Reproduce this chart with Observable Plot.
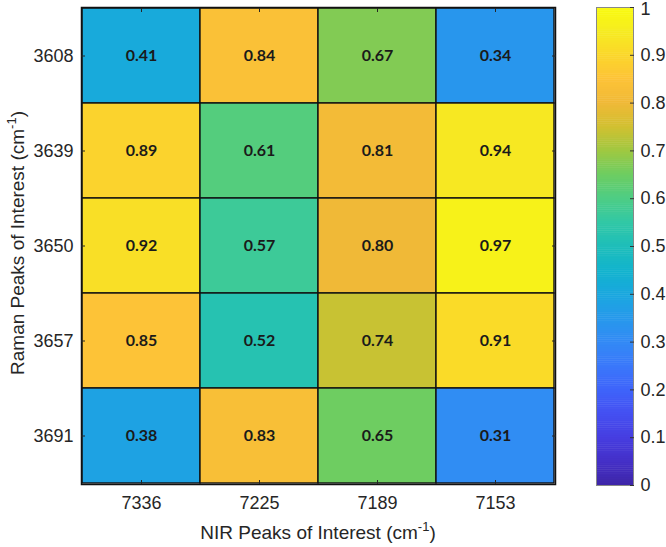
<!DOCTYPE html>
<html>
<head>
<meta charset="utf-8">
<script src="https://cdn.jsdelivr.net/npm/d3@7"></script>
<script src="https://cdn.jsdelivr.net/npm/@observablehq/plot@0.6"></script>
<style>
  html, body { margin: 0; padding: 0; background: #fff; }
  #wrap { position: relative; width: 666px; height: 547px; }
  #wrap svg { position: absolute; left: 0; top: 0; }
</style>
</head>
<body>
<div id="wrap"></div>
<script>
// ---- data ----
const nirPeaks = ["7336", "7225", "7189", "7153"];
const ramanPeaks = ["3608", "3639", "3650", "3657", "3691"];
const row3608 = [0.41, 0.84, 0.67, 0.34];
const row3639 = [0.89, 0.61, 0.81, 0.94];
const row3650 = [0.92, 0.57, 0.80, 0.97];
const row3657 = [0.85, 0.52, 0.74, 0.91];
const row3691 = [0.38, 0.83, 0.65, 0.31];
const colorbarTicks = [0, 0.1, 0.2, 0.3, 0.4, 0.5, 0.6, 0.7, 0.8, 0.9, 1];

const rows = [row3608, row3639, row3650, row3657, row3691];
const cells = [];
ramanPeaks.forEach((r, i) => nirPeaks.forEach((n, j) => cells.push({nir: n, raman: r, value: rows[i][j]})));

// parula-like colormap (stops every 0.05)
const parulaStops = [
  "rgb(62,38,168)", "rgb(68,48,200)", "rgb(70,62,225)", "rgb(68,80,242)", "rgb(62,100,250)",
  "rgb(58,120,250)", "rgb(50,138,245)", "rgb(38,153,235)", "rgb(25,168,222)", "rgb(18,180,205)",
  "rgb(30,190,185)", "rgb(50,200,165)", "rgb(78,205,132)", "rgb(110,205,97)", "rgb(160,200,65)",
  "rgb(210,192,48)", "rgb(240,185,55)", "rgb(253,195,55)", "rgb(251,215,42)", "rgb(246,236,32)",
  "rgb(249,251,14)"
];
const parula = d3.piecewise(d3.interpolateRgb, parulaStops);
const colorOpts = {type: "linear", domain: [0, 1], interpolate: parula};

const axisFont = "'Liberation Sans', Arial, sans-serif";
const textCol = "#262626";

// ---- heatmap ----
const heat = Plot.plot({
  width: 666, height: 547,
  marginLeft: 81, marginRight: 111, marginTop: 7, marginBottom: 63,
  style: {background: "transparent", fontFamily: axisFont, fontSize: "18px", color: textCol},
  x: {type: "band", domain: nirPeaks, padding: 0, label: null},
  y: {type: "band", domain: ramanPeaks, padding: 0, label: null},
  color: colorOpts,
  marks: [
    Plot.cell(cells, {x: "nir", y: "raman", fill: "value", stroke: "#111", strokeWidth: 1.4}),
    Plot.text(cells, {x: "nir", y: "raman", text: d => d.value.toFixed(2), fill: "#1a1a1a",
      fontWeight: "bold", fontSize: 16, fontFamily: "Lato, 'Open Sans', sans-serif"}),
    Plot.frame({stroke: "#111", strokeWidth: 1.5}),
    Plot.axisX({anchor: "bottom", tickSize: -4, tickPadding: 16, label: null, stroke: textCol, fill: textCol}),
    Plot.axisX({anchor: "top", tickSize: -4, tickFormat: () => "", label: null, stroke: textCol}),
    Plot.axisY({anchor: "left", tickSize: -4, tickPadding: 12, label: null, stroke: textCol, fill: textCol}),
    Plot.axisY({anchor: "right", tickSize: -4, tickFormat: () => "", label: null, stroke: textCol})
  ]
});

// ---- colorbar ----
const step = 0.004;
const bands = d3.range(0, 1, step).map(v => ({v0: v, v1: Math.min(1, v + step + 0.001), mid: v + step / 2}));
const cbar = Plot.plot({
  width: 666, height: 547,
  marginLeft: 596, marginRight: 33, marginTop: 7, marginBottom: 62,
  style: {background: "transparent", fontFamily: axisFont, fontSize: "18px", color: textCol},
  x: {domain: [0, 1], axis: null},
  y: {domain: [0, 1], label: null, axis: null},
  color: colorOpts,
  marks: [
    Plot.rectY(bands, {x1: 0, x2: 1, y1: "v0", y2: "v1", fill: "mid"}),
    Plot.frame({stroke: "#888", strokeWidth: 1}),
    Plot.axisY(colorbarTicks, {anchor: "right", tickSize: -4, tickPadding: 11, label: null,
      tickFormat: d => String(+d.toFixed(1)), stroke: "#333", fill: textCol})
  ]
});

const wrap = document.getElementById("wrap");
wrap.appendChild(heat);
wrap.appendChild(cbar);

// keep the top "1" label inside the window
d3.select(cbar).selectAll("text").filter(function() { return this.textContent === "1"; })
  .attr("transform", function() { return (this.getAttribute("transform") || "") + " translate(0,2)"; });

// ---- axis titles with superscripts ----
const svg = d3.select(heat);
const xt = svg.append("text")
  .attr("x", 318).attr("y", 539)
  .attr("text-anchor", "middle")
  .attr("font-family", axisFont).attr("font-size", 19).attr("fill", textCol);
xt.append("tspan").text("NIR Peaks of Interest (cm");
xt.append("tspan").attr("dy", -8).attr("font-size", 13).text("-1");
xt.append("tspan").attr("dy", 8).text(")");

const yt = svg.append("text")
  .attr("transform", "translate(24,243) rotate(-90)")
  .attr("text-anchor", "middle")
  .attr("font-family", axisFont).attr("font-size", 19).attr("fill", textCol);
yt.append("tspan").text("Raman Peaks of Interest (cm");
yt.append("tspan").attr("dy", -8).attr("font-size", 13).text("-1");
yt.append("tspan").attr("dy", 8).text(")");
</script>
</body>
</html>
